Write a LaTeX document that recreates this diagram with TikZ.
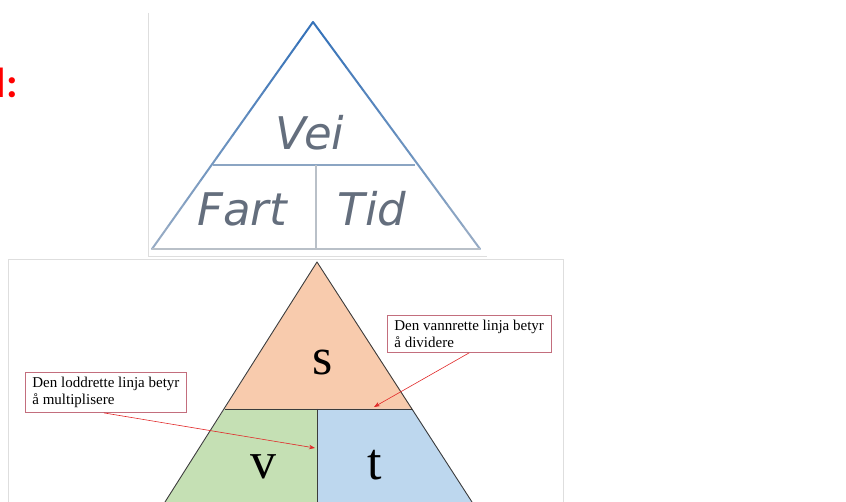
\documentclass[tikz,border=0pt]{standalone}
\usepackage{fontspec}
\setmainfont{Liberation Serif}
\newfontfamily\veifont{DejaVu Sans}
\newfontfamily\calfont{Carlito}
\usetikzlibrary{arrows.meta,calc}
\definecolor{peach}{RGB}{248,203,173}
\definecolor{lgreen}{RGB}{197,224,180}
\definecolor{lblue}{RGB}{189,215,238}
\definecolor{edge}{RGB}{60,60,60}
\definecolor{boxred}{RGB}{195,110,125}
\definecolor{arrred}{RGB}{225,40,40}
\definecolor{steel}{RGB}{55,115,185}
\definecolor{paleline}{RGB}{185,192,200}
\definecolor{framegray}{RGB}{222,222,222}
\definecolor{wordgray}{RGB}{100,110,125}
\begin{document}
\begin{tikzpicture}[x=1pt,y=-1pt,
  callout/.style={draw=boxred, line width=0.8pt, fill=white, align=left,
    font=\fontsize{15}{16.5}\selectfont, inner xsep=7pt, inner ysep=5pt, anchor=north west},
  callarrow/.style={draw=arrred, line width=0.6pt, -{Stealth[length=6pt,width=4.5pt]}},
  bigletter/.style={font=\fontsize{52}{56}\selectfont, anchor=base, inner sep=0pt},
  wordlbl/.style={font=\veifont\itshape\fontsize{45}{48}\selectfont, text=wordgray, inner sep=0pt},
  region/.style={draw=edge, line width=0.9pt, line join=round}]
\useasboundingbox (0,0) rectangle (846,502);
\clip (0,0) rectangle (846,502);

% red partial heading
\node[anchor=base west, inner sep=0pt, text=red, font=\calfont\bfseries\fontsize{42}{48}\selectfont] (head) at (-4.5,98) {l:};

% ---------- top picture ----------
\draw[framegray, line width=0.6pt] (148,13) -- (148,256) -- (487,256);
\coordinate (ta) at (313,22);
\coordinate (tbl) at (152,249);
\coordinate (tbr) at (480,249);
\coordinate (tdl) at (213,165);
\coordinate (tdr) at (415,165);
\coordinate (tvt) at (316,165);
\coordinate (tvb) at (316,249);
\foreach \k in {0,...,9}{
  \pgfmathsetmacro{\mix}{100-\k*8}
  \pgfmathsetmacro{\fa}{\k/10}
  \pgfmathsetmacro{\fb}{\k/10+0.1}
  \draw[steel!\mix!paleline, line width=2pt, line cap=round]
    ($(ta)!\fa!(tbl)$) -- ($(ta)!\fb!(tbl)$);
  \draw[steel!\mix!paleline, line width=2pt, line cap=round]
    ($(ta)!\fa!(tbr)$) -- ($(ta)!\fb!(tbr)$);
}
\draw[steel!35!paleline, line width=1.8pt] (tdl) -- (tdr);
\draw[paleline, line width=1.8pt] (tvt) -- (tvb);
\draw[paleline, line width=1.8pt] (tbl) -- (tbr);
\node[wordlbl] (vei) at (310,133) {Vei};
\node[wordlbl] (fart) at (242,209) {Fart};
\node[wordlbl] (tid) at (372,209) {Tid};

% ---------- bottom picture ----------
\draw[framegray, line width=0.6pt] (8,510) -- (8,259) -- (563,259) -- (563,510);
\coordinate (a) at (317,262);
\coordinate (dl) at (224.5,409);
\coordinate (dr) at (412.5,409);
\coordinate (dm) at (317,409);
\coordinate (bl) at (165,502);
\coordinate (br) at (472,502);
\coordinate (bm) at (317,502);
\fill[peach] (a) -- (dl) -- (dr) -- cycle;
\fill[lgreen] (dl) -- (dm) -- (bm) -- (bl) -- cycle;
\fill[lblue] (dm) -- (dr) -- (br) -- (bm) -- cycle;
\draw[region] (bl) -- (a) -- (br);
\draw[region] (dl) -- (dr);
\draw[region] (dm) -- (bm);

\node[bigletter] (s) at (323,375) {s};
\node[bigletter] (v) at (263,478) {v};
\node[bigletter] (t) at (375,479) {t};

\node[callout] (rbox) at (387,315) {Den vannrette linja betyr\\å dividere};
\node[callout] (lbox) at (25,372) {Den loddrette linja betyr\\å multiplisere};
\coordinate (rtip) at (374,407);
\coordinate (ltip) at (315,448);
\draw[callarrow] (rbox.south) -- (rtip);
\draw[callarrow] ([xshift=-2pt]lbox.south) -- (ltip);
\end{tikzpicture}
\end{document}
